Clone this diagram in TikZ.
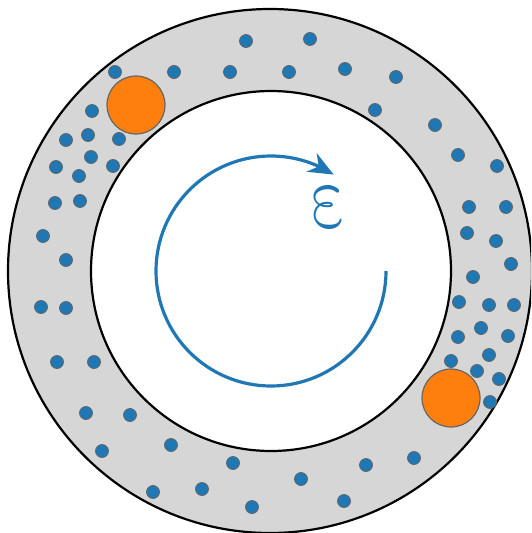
\documentclass[tikz,border=0pt]{standalone}
\usepackage{fontspec}
\usetikzlibrary{arrows.meta,bending}
\definecolor{mblue}{HTML}{1F77B4}
\definecolor{morange}{HTML}{FF7F0E}
\definecolor{ringgray}{HTML}{D6D6D6}
\definecolor{edgegray}{HTML}{666666}
\tikzset{
  dot/.style={circle,fill=mblue,draw=edgegray,line width=0.8pt,minimum size=13pt,inner sep=0pt},
  bigdot/.style={circle,fill=morange,draw=edgegray,line width=1.2pt,minimum size=58pt,inner sep=0pt},
  ring/.style={draw=black,line width=2.2pt},
  flow/.style={draw=mblue,line width=3.2pt,-{Stealth[length=25pt,width=21pt,inset=8pt,flex]}}
}
\begin{document}
\begin{tikzpicture}[x=1pt,y=-1pt]
\useasboundingbox (0,0) rectangle (531,533);
\begin{scope}
\clip (0,0) rectangle (531,533);
\node[circle,ring,fill=ringgray,minimum size=524pt,inner sep=0pt] (outer) at (270,271) {};
\node[circle,ring,fill=white,minimum size=360pt,inner sep=0pt] (inner) at (271,271) {};
\end{scope}
\coordinate (c) at (271,271);
\draw[flow] ([shift={(0:115)}]c) arc[start angle=0,end angle=303,radius=115];
\begin{scope}[shift={(328,207)},xslant=-0.22]
\node[text=mblue,inner sep=0pt,transform shape] (eps) at (0,0) {\resizebox{36pt}{40pt}{$\varepsilon$}};
\end{scope}
\foreach \x/\y [count=\i] in {246/41,310/39,115/72,174/72,230/72,289/72,345/69,396/77,92/111,375/110,435/125,66/140,88/135,119/139,91/157,56/167,79/176,113/166,458/155,497/166,55/203,80/201,469/207,506/207,43/236,467/233,496/241,66/260,511/264,473/277,41/307,66/308,459/302,489/305,514/305,481/328,458/337,508/336,57/362,94/362,489/355,451/361,477/371,499/379,490/402,86/413,130/415,171/445,102/451,233/463,366/465,414/458,301/479,153/492,202/489,252/507,344/501}
  \node[dot] (d\i) at (\x,\y) {};
\node[bigdot] (o1) at (136,105) {};
\node[bigdot] (o2) at (451,398) {};
\end{tikzpicture}
\end{document}
